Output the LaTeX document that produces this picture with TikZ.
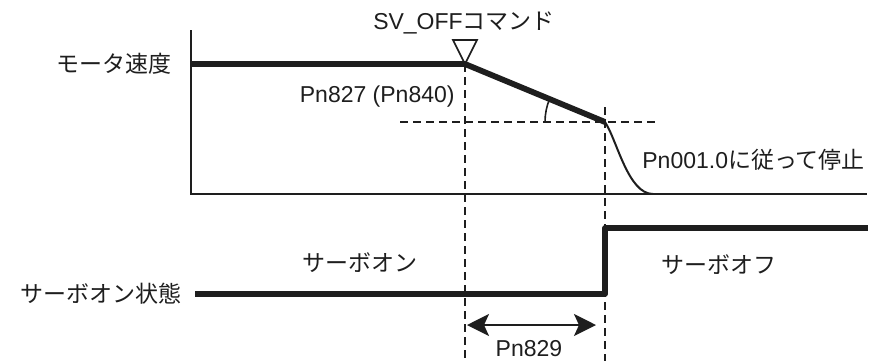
\documentclass[tikz,border=0pt]{standalone}
\usepackage{fontspec}
\setmainfont{Liberation Sans}
\newfontfamily\jp{Noto Sans CJK JP}
\usepackage{tikz}
\usetikzlibrary{arrows.meta, positioning, angles}
\definecolor{inkgray}{HTML}{1E1E1E}
\tikzset{
    lbl/.style={inner sep=0pt, font=\fontsize{11.5}{13}\selectfont, text=inkgray},
    axisline/.style={line width=0.8pt, draw=inkgray},
    thickline/.style={line width=2.9pt, draw=inkgray, line join=round},
    curveline/.style={line width=1pt, draw=inkgray},
    guide/.style={dash pattern=on 4pt off 2.5pt, line width=0.7pt, draw=inkgray},
    dblarrow/.style={{Stealth[length=11pt, width=11pt, inset=2.5pt]}-{Stealth[length=11pt, width=11pt, inset=2.5pt]}, line width=1pt, draw=inkgray}
}

\begin{document}
\begin{tikzpicture}[x=0.5pt, y=-0.5pt]
        \useasboundingbox (0,0) rectangle (880,361);
        % axes
        \coordinate (ytop) at (191,30);
        \coordinate (origin) at (191,194);
        \coordinate (xend) at (867,194);
        \draw[axisline] (ytop) -- (origin) -- (xend);

        % motor speed
        \coordinate (v0) at (191,64);
        \coordinate (off) at (465,64);
        \coordinate (decend) at (605,122);
        \coordinate (stop) at (653,194);
        \draw[thickline] (v0) -- (off) -- (decend);
        \draw[curveline] (decend) .. controls (617,140) and (628,194) .. (stop);

        % guides
        \coordinate (hl) at (400,122);
        \coordinate (hr) at (655,122);
        \coordinate (offbot) at (465,361);
        \coordinate (dectop) at (605,107);
        \coordinate (decbot) at (605,361);
        \draw[guide] (hl) -- (hr);
        \draw[guide] (off) -- (offbot);
        \draw[guide] (dectop) -- (decbot);
        \pic[draw=inkgray, line width=0.8pt, angle radius=30pt] {angle = off--decend--hl};

        % command marker
        \coordinate (trileft) at (453,40);
        \coordinate (triright) at (477,40);
        \draw[axisline] (trileft) -- (triright) -- (off) -- cycle;
        \node[lbl] (cmd) at (464,23) {SV\_OFF{\jp コマンド}};

        % servo state
        \coordinate (s0) at (195,294);
        \coordinate (srise) at (605,294);
        \coordinate (shigh) at (605,228);
        \coordinate (send) at (868,228);
        \draw[thickline] (s0) -- (srise) -- (shigh) -- (send);

        \coordinate (al) at (467,325);
        \coordinate (ar) at (596,325);
        \draw[dblarrow] (al) -- (ar);

        % labels
        \node[lbl, left=9.5pt of v0] (speed) {\jp モータ速度};
        \node[lbl, left=6.5pt of s0] (state) {\jp サーボオン状態};
        \node[lbl, anchor=east] (decel) at (455,97) {Pn827 (Pn840)};
        \node[lbl, anchor=west] (stopmode) at (642,160) {Pn001.0{\jp に従って停止}};
        \node[lbl] (son) at (360,263) {\jp サーボオン};
        \node[lbl] (soff) at (719,265) {\jp サーボオフ};
        \node[lbl] (delay) at (529,349) {Pn829};
    \end{tikzpicture}
\end{document}
